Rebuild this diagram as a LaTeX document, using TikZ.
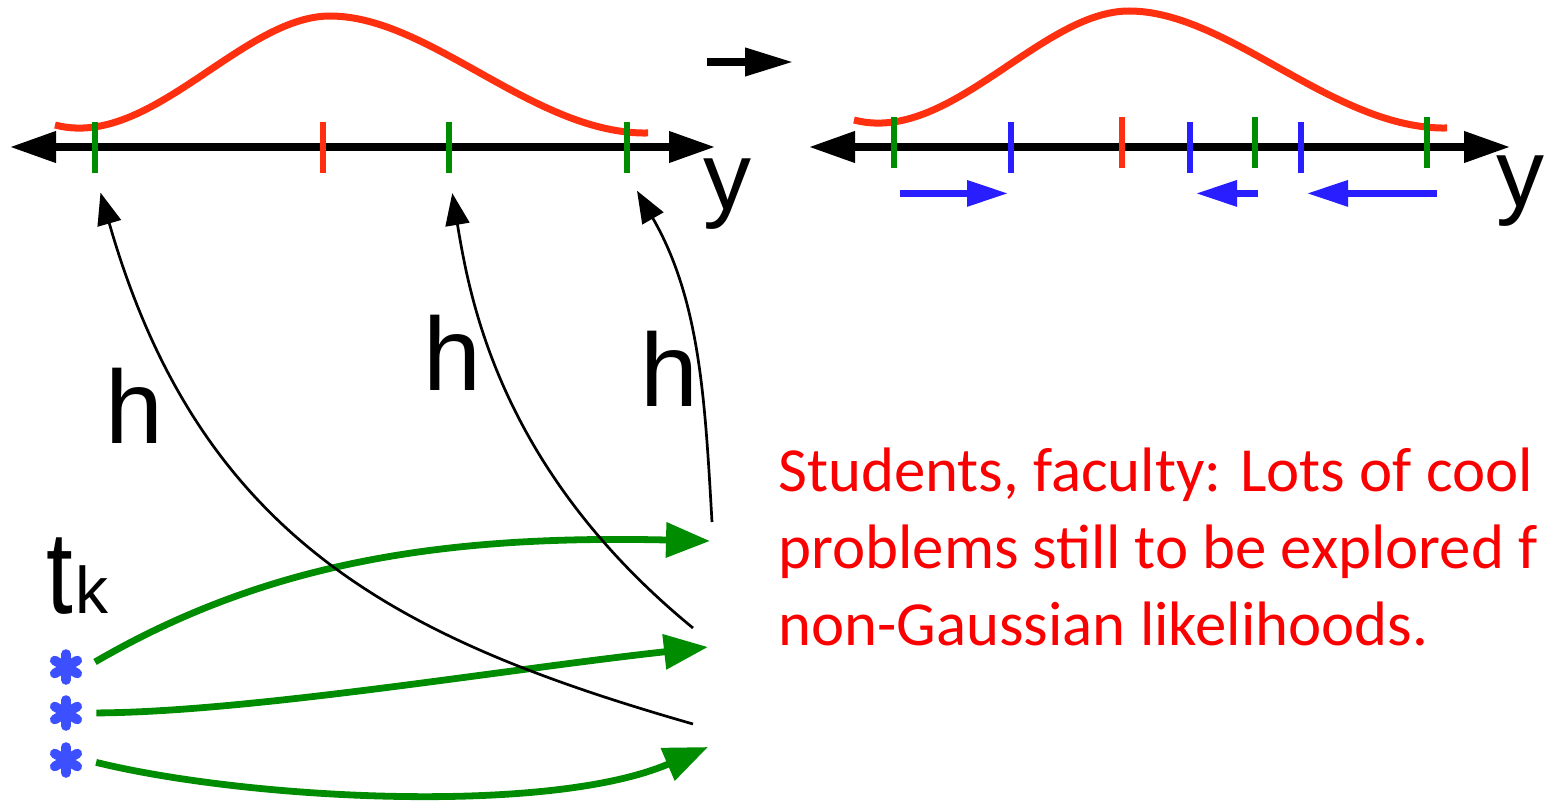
\documentclass[tikz,border=0pt]{standalone}
\usepackage{fontspec}
\setmainfont{Liberation Sans}
\newfontfamily\notefont{Carlito}
\usetikzlibrary{arrows.meta,calc}
\definecolor{curvered}{RGB}{255,48,16}
\definecolor{tickgreen}{RGB}{0,140,0}
\definecolor{tickblue}{RGB}{40,30,255}
\definecolor{starblue}{RGB}{60,80,255}
\definecolor{notered}{RGB}{250,0,0}
\tikzset{
  axisline/.style={{Triangle[length=23pt,width=15pt]}-{Triangle[length=23pt,width=15pt]}, line width=3.6pt},
  density/.style={curvered, line width=3.5pt},
  tickmark/.style={inner sep=0pt, minimum width=2.6pt, minimum height=25.5pt},
  ymark/.style={font=\fontsize{48}{50}\selectfont, inner sep=0pt, anchor=base west},
  hlabel/.style={font=\fontsize{52}{54}\selectfont, inner sep=0pt, anchor=base west},
  harrow/.style={-{Triangle[length=16pt,width=12pt]}, line width=1.35pt, shorten >=10pt},
  greenarrow/.style={-{Triangle[length=22pt,width=17pt]}, line width=3.4pt, tickgreen, shorten <=5pt},
  bluearrow/.style={-{Triangle[length=20.5pt,width=12.5pt]}, line width=3.2pt, tickblue},
  steparrow/.style={-{Triangle[length=24pt,width=13.5pt]}, line width=3.6pt},
  asterisk/.style={rectangle, inner sep=0pt, minimum size=20pt, path picture={
    \foreach \a in {90,30,150}
      \draw[starblue, line width=4.8pt, line cap=round] ($(path picture bounding box.center)+(\a:13)$) -- ($(path picture bounding box.center)+(\a+180:13)$);}},
  note/.style={font=\notefont\fontsize{31.4}{38.5}\selectfont, text=notered, inner sep=0pt, anchor=base west}
}
\begin{document}
\begin{tikzpicture}[x=0.5pt,y=-0.5pt]
  \useasboundingbox (0,0) rectangle (1548,802);
  \clip (0,0) rectangle (1548,802);
  \coordinate (lneg) at (10,147);
  \coordinate (lpos) at (715,147);
  \draw[axisline] (lneg) -- (lpos);
  \draw[density] (55,125) .. controls (150,150) and (242,16) .. (330,16) .. controls (430,16) and (535,135) .. (648,133);
  \node[tickmark, fill=tickgreen] (g1) at (95,147.5) {};
  \node[tickmark, fill=curvered] (m1) at (323,147.5) {};
  \node[tickmark, fill=tickgreen] (g2) at (449,147.5) {};
  \node[tickmark, fill=tickgreen] (g3) at (627,147.5) {};
  \node[ymark] (ylab1) at (703,210) {y};

  \node[hlabel, font=\fontsize{48}{50}\selectfont] (tlab) at (46,613) {\scalebox{1}[1.22]{t}\kern1pt{\fontsize{33}{34}\selectfont k}};
  \node[asterisk] (star1) at (66,667) {};
  \node[asterisk] (star2) at (66,713) {};
  \node[asterisk] (star3) at (66,760) {};
  \coordinate (end1) at (710,541);
  \coordinate (end2) at (708,647);
  \coordinate (end3) at (708,747);
  \draw[greenarrow] (star1.east) .. controls (270,560) and (450,535) .. (end1);
  \draw[greenarrow] (star2.east) .. controls (250,712) and (500,670) .. (end2);
  \draw[greenarrow] (star3.east) .. controls (250,800) and (550,815) .. (end3);

  \coordinate (src1) at (693,724);
  \coordinate (src2) at (693,628);
  \coordinate (src3) at (712,522);
  \draw[harrow] (src1) .. controls (400,640) and (200,540) .. (g1.south);
  \draw[harrow] (src2) .. controls (500,470) and (470,300) .. (g2.south);
  \draw[harrow] (src3) .. controls (705,400) and (700,300) .. (g3.south);
  \node[hlabel] (h1) at (105,444) {h};
  \node[hlabel] (h2) at (423,391) {h};
  \node[hlabel] (h3) at (640,407) {h};

  \coordinate (stepfrom) at (707,62);
  \coordinate (stepto) at (793,62);
  \draw[steparrow] (stepfrom) -- (stepto);

  \coordinate (rneg) at (809,147);
  \coordinate (rpos) at (1510,147);
  \draw[axisline] (rneg) -- (rpos);
  \draw[density, shift={(799,-5)}] (55,125) .. controls (150,150) and (242,16) .. (330,16) .. controls (430,16) and (535,135) .. (648,133);
  \node[tickmark, fill=tickgreen] (q1) at (894,142.5) {};
  \node[tickmark, fill=tickblue] (b1) at (1011,147.5) {};
  \node[tickmark, fill=curvered] (m2) at (1122,142.5) {};
  \node[tickmark, fill=tickblue] (b2) at (1190,147.5) {};
  \node[tickmark, fill=tickgreen] (q2) at (1255,142.5) {};
  \node[tickmark, fill=tickblue] (b3) at (1301,147.5) {};
  \node[tickmark, fill=tickgreen] (q3) at (1427,142.5) {};
  \draw[bluearrow] ($(q1.south)+(6,25)$) -- ($(b1.south)+(-3,20)$);
  \draw[bluearrow] ($(q2.south)+(3,25)$) -- ($(b2.south)+(6,20)$);
  \draw[bluearrow] ($(q3.south)+(10,25)$) -- ($(b3.south)+(6,20)$);
  \node[ymark] (ylab2) at (1496,207) {y};

  \node[note] (note1) at (778,491) {Students, faculty: Lots of cool};
  \node[note] (note2) at (778,568) {problems still to be explored f};
  \node[note] (note3) at (778,645) {non-Gaussian likelihoods.};
\end{tikzpicture}
\end{document}
